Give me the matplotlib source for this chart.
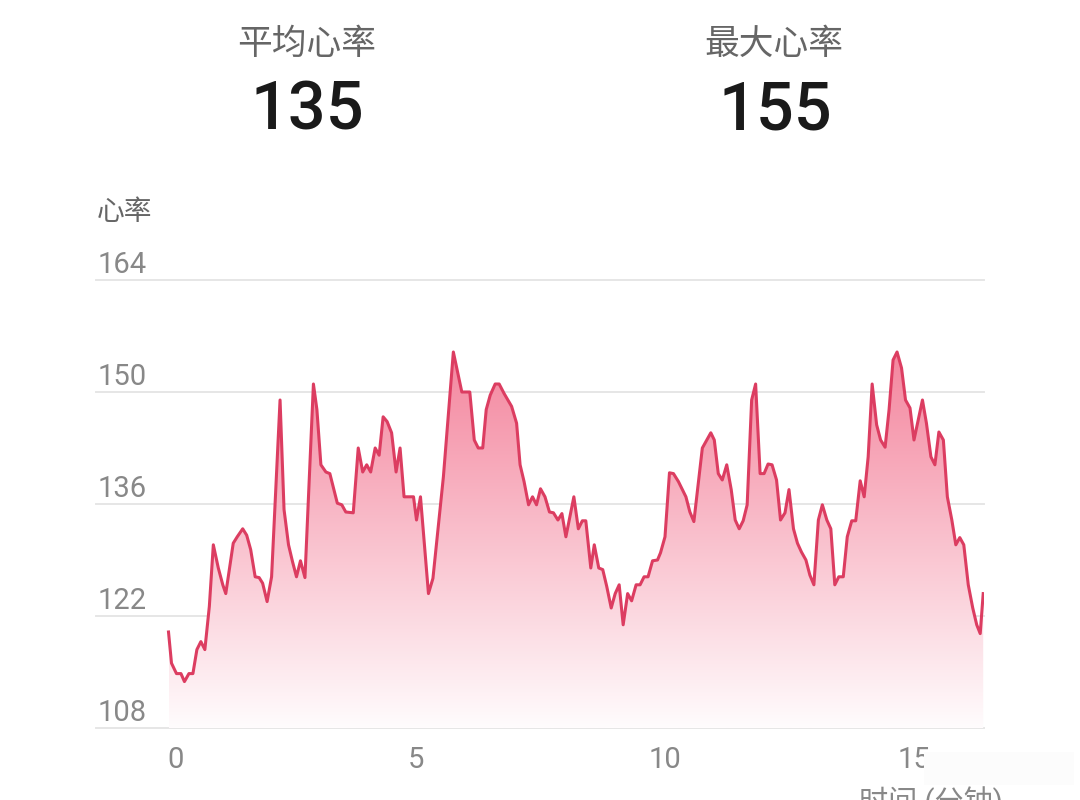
import numpy as np
import matplotlib
matplotlib.use("Agg")
import matplotlib.pyplot as plt
from matplotlib.patches import Rectangle, Polygon

plt.rcParams['font.family'] = ['Roboto', 'Noto Sans CJK SC', 'DejaVu Sans']

# 心率数据（分钟, 次/分）
minutes = [
    0.03, 0.09, 0.19, 0.28, 0.35, 0.44, 0.52, 0.60, 0.68, 0.76,
    0.85, 0.93, 1.03, 1.12, 1.18, 1.33, 1.41, 1.52, 1.60, 1.68,
    1.77, 1.85, 1.92, 2.01, 2.10, 2.27, 2.35, 2.44, 2.52, 2.60,
    2.68, 2.77, 2.94, 3.01, 3.09, 3.19, 3.27, 3.42, 3.51, 3.59,
    3.74, 3.84, 3.93, 4.01, 4.09, 4.18, 4.26, 4.34, 4.42, 4.51,
    4.60, 4.68, 4.76, 4.95, 5.01, 5.09, 5.25, 5.34, 5.55, 5.75,
    5.92, 6.08, 6.17, 6.25, 6.34, 6.41, 6.49, 6.59, 6.67, 6.77,
    6.92, 7.02, 7.09, 7.17, 7.26, 7.34, 7.42, 7.50, 7.59, 7.68,
    7.76, 7.85, 7.93, 8.01, 8.17, 8.26, 8.34, 8.41, 8.51, 8.58,
    8.67, 8.75, 8.83, 8.92, 9.00, 9.08, 9.16, 9.25, 9.33, 9.42,
    9.50, 9.58, 9.66, 9.75, 9.85, 9.91, 10.00, 10.09, 10.17, 10.27,
    10.42, 10.50, 10.58, 10.75, 10.84, 10.92, 10.99, 11.07, 11.15, 11.24,
    11.33, 11.41, 11.49, 11.57, 11.65, 11.74, 11.82, 11.91, 11.99, 12.07,
    12.15, 12.24, 12.32, 12.41, 12.49, 12.58, 12.66, 12.74, 12.83, 12.91,
    12.99, 13.08, 13.16, 13.25, 13.33, 13.41, 13.49, 13.58, 13.66, 13.75,
    13.83, 13.92, 14.00, 14.08, 14.16, 14.25, 14.33, 14.42, 14.50, 14.58,
    14.66, 14.75, 14.83, 14.92, 15.00, 15.17, 15.25, 15.34, 15.42, 15.50,
    15.59, 15.67, 15.76, 15.84, 15.92, 16.00, 16.09, 16.18, 16.26, 16.33,
    16.39,
]
heart_rate = [
    120.0, 116.1, 114.8, 114.8, 113.8, 114.8, 114.8, 117.8, 118.8, 117.8,
    123.2, 130.9, 128.0, 125.9, 124.8, 131.1, 131.9, 132.9, 132.1, 130.3,
    126.9, 126.8, 126.1, 123.8, 126.9, 149.0, 135.3, 130.9, 128.8, 126.9,
    128.9, 126.8, 151.0, 147.8, 140.9, 140.0, 139.8, 136.1, 135.9, 135.0,
    134.9, 143.0, 140.0, 140.9, 140.0, 143.0, 142.1, 146.9, 146.3, 144.9,
    140.0, 143.0, 136.9, 136.9, 134.0, 136.9, 124.8, 126.7, 139.4, 155.0,
    150.0, 150.0, 144.0, 143.0, 143.0, 147.8, 149.6, 151.0, 151.0, 149.8,
    148.2, 146.1, 140.9, 138.8, 135.9, 136.9, 135.9, 137.9, 136.9, 135.0,
    134.9, 134.0, 134.8, 131.9, 136.9, 132.9, 133.9, 133.9, 128.0, 130.9,
    128.0, 127.8, 125.7, 123.0, 124.8, 125.9, 120.9, 124.8, 123.9, 125.9,
    125.9, 126.9, 126.9, 128.9, 129.0, 129.9, 131.9, 139.9, 139.8, 138.8,
    136.9, 135.0, 133.8, 143.0, 144.0, 144.9, 144.0, 139.8, 139.0, 140.9,
    137.8, 134.0, 132.9, 133.9, 135.9, 149.0, 151.0, 139.8, 139.8, 141.0,
    140.9, 139.0, 134.0, 134.9, 137.8, 132.9, 131.1, 130.0, 129.0, 127.1,
    125.9, 134.0, 135.9, 134.0, 132.9, 125.9, 126.9, 126.9, 131.9, 133.9,
    133.9, 138.9, 136.9, 141.9, 151.0, 145.9, 144.0, 143.1, 147.8, 154.0,
    155.0, 153.0, 149.0, 148.0, 144.0, 149.0, 146.1, 141.9, 140.9, 145.0,
    144.0, 136.9, 134.0, 130.9, 131.8, 130.9, 125.9, 123.0, 120.9, 119.8,
    124.8,
]

y_ticks = [108, 122, 136, 150, 164]
x_ticks = [0, 5, 10, 15]
avg_hr = 135
max_hr = 155

line_color = "#dc3d61"
grid_color = "#e6e6e6"
label_gray = "#888888"
title_gray = "#666666"

fig = plt.figure(figsize=(10.8, 8), dpi=100)
ax = fig.add_axes([96 / 1080, 72 / 800, 888 / 1080, 448 / 800])
ax.set_xlim(-1.426, 16.406)
ax.set_ylim(108, 164)
ax.axis("off")

# 网格线 + y 轴标签
for v in y_ticks:
    ax.axhline(v, color=grid_color, lw=1.4, zorder=1, clip_on=False)
    ax.annotate(str(v), xy=(0, v), xycoords=("axes fraction", "data"),
                xytext=(1, 5), textcoords="offset points",
                ha="left", va="baseline", fontsize=21, color=label_gray)

# 渐变填充
x = np.array(minutes)
y = np.array(heart_rate)
top_rgb = np.array([244, 134, 158]) / 255
bot_rgb = np.array([255, 252, 253]) / 255
grad = np.linspace(1, 0, 256)[:, None, None]
img = bot_rgb + grad * (top_rgb - bot_rgb)
im = ax.imshow(img, extent=[x[0], x[-1], 108, max(heart_rate)],
               aspect="auto", origin="upper", zorder=2)
verts = np.vstack([[x[0], 108], np.column_stack([x, y]), [x[-1], 108]])
clip_poly = Polygon(verts, closed=True, transform=ax.transData,
                    facecolor="none", edgecolor="none")
ax.add_patch(clip_poly)
im.set_clip_path(clip_poly)

ax.plot(x, y, color=line_color, lw=2.2, zorder=3)

# x 轴刻度
for t in x_ticks:
    dx = 6 if t == 0 else 0
    ax.annotate(str(t), xy=(t, 108), xycoords="data",
                xytext=(dx, -23), textcoords="offset points",
                ha="center", va="center", fontsize=21, color=label_gray)

fig.text(97 / 1080, 1 - 212 / 800, "心率", ha="left", va="center",
         fontsize=20, color=title_gray)

# 顶部统计
fig.text(307 / 1080, 1 - 44 / 800, "平均心率", ha="center", va="center",
         fontsize=25, color=title_gray)
fig.text(774 / 1080, 1 - 44 / 800, "最大心率", ha="center", va="center",
         fontsize=25, color=title_gray)
fig.text(307 / 1080, 1 - 111 / 800, str(avg_hr), ha="center", va="center",
         fontsize=48, fontweight="medium", color="#1a1a1a")
fig.text(775 / 1080, 1 - 111 / 800, str(max_hr), ha="center", va="center",
         fontsize=48, fontweight="medium", color="#1a1a1a")

fig.text(931 / 1080, 1 - 802 / 800, "时间 (分钟)", ha="center", va="center",
         fontsize=21, color=label_gray)

# 右下角遮挡块
fig.patches.append(Rectangle((924 / 1080, 1 - 785 / 800), 150 / 1080, 33 / 800,
                             transform=fig.transFigure, facecolor="#fcfcfc",
                             edgecolor="none", zorder=10))

fig.savefig("out.png", dpi=100, facecolor="white")
